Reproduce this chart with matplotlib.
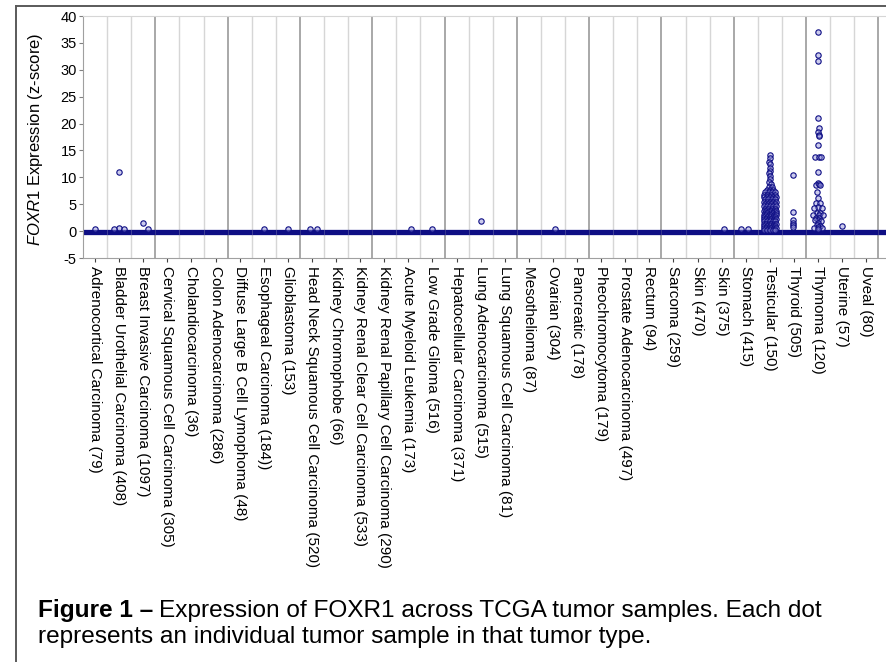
import matplotlib
matplotlib.use("Agg")
import matplotlib.pyplot as plt
from matplotlib.lines import Line2D

plt.rcParams['font.family'] = ['Liberation Sans', 'DejaVu Sans']
plt.rcParams['mathtext.fontset'] = 'custom'
plt.rcParams['mathtext.it'] = 'Liberation Sans:italic'
plt.rcParams['mathtext.rm'] = 'Liberation Sans'

# ---------------- data ----------------
tumor_types = ["Adrenocortical Carcinoma (79)", "Bladder Urothelial Carcinoma (408)",
               "Breast Invasive Carcinoma (1097)", "Cervical Squamous Cell Carcinoma (305)",
               "Cholandiocarcinoma (36)", "Colon Adenocarcinoma (286)",
               "Diffuse Large B Cell Lymophoma (48)", "Esophageal Carcinoma (184))",
               "Glioblastoma (153)", "Head Neck Squamous Cell Carcinoma (520)",
               "Kidney Chromophobe (66)", "Kidney Renal Clear Cell Carcinoma (533)",
               "Kidney Renal Papillary Cell Carcinoma (290)", "Acute Myeloid Leukemia (173)",
               "Low Grade Glioma (516)", "Hepatocellular Carcinoma (371)",
               "Lung Adenocarcinoma (515)", "Lung Squamous Cell Carcinoma (81)",
               "Mesothelioma (87)", "Ovarian (304)", "Pancreatic (178)",
               "Pheochromocytoma (179)", "Prostate Adenocarcinoma (497)", "Rectum (94)",
               "Sarcoma (259)", "Skin (470)", "Skin (375)", "Stomach (415)",
               "Testicular (150)", "Thyroid (505)", "Thymoma (120)", "Uterine (57)",
               "Uveal (80)"]

# bulk of samples (dense band near zero) for each tumor type
bulk_level = [-0.15, -0.15, -0.15, -0.15, -0.15, -0.15, -0.15, -0.15, -0.15, -0.15, -0.15,
              -0.15, -0.15, -0.1, -0.1, -0.15, -0.15, -0.15, -0.15, -0.15, -0.15, -0.15,
              -0.15, -0.15, -0.15, -0.15, -0.15, -0.15, -0.15, -0.15, -0.15, -0.15, -0.15]

# Testicular (150) individual samples
testicular_vals = [14.1, 13.6, 12.9, 12.4, 11.7, 11.2, 10.8, 10.3, 9.7, 9.2, 8.7,
                   8.2, 8.2, 7.7, 7.7, 7.7, 7.2, 7.2, 7.2, 7.2, 6.8, 6.8, 6.8, 6.8,
                   6.3, 6.3, 6.3, 6.3, 6.3, 5.9, 5.9, 5.9, 5.9, 5.4, 5.4, 5.4, 5.4, 5.4,
                   5.0, 5.0, 5.0, 5.0, 4.6, 4.6, 4.6, 4.6, 4.6, 4.2, 4.2, 4.2, 4.2,
                   3.8, 3.8, 3.8, 3.8, 3.8, 3.8, 3.4, 3.4, 3.4, 3.4, 3.4,
                   3.0, 3.0, 3.0, 3.0, 3.0, 3.0, 2.6, 2.6, 2.6, 2.6, 2.6,
                   2.2, 2.2, 2.2, 2.2, 2.2, 2.2, 1.8, 1.8, 1.8, 1.8, 1.8,
                   1.4, 1.4, 1.4, 1.4, 1.4, 1.4, 1.0, 1.0, 1.0, 1.0, 1.0,
                   0.6, 0.6, 0.6, 0.6, 0.6, 0.6, 0.2, 0.2, 0.2, 0.2, 0.2]
testicular_offs = [0.0, 0.0, -0.02, 0.0, 0.02, 0.0, -0.02, 0.0, 0.02, -0.02, 0.03,
                   -0.05, 0.08, -0.12, 0.0, 0.12, -0.2, -0.05, 0.1, 0.22, -0.24, -0.1, 0.05, 0.2,
                   -0.25, -0.13, 0.0, 0.13, 0.25, -0.2, -0.07, 0.07, 0.2, -0.26, -0.13, 0.0, 0.13, 0.26,
                   -0.22, -0.08, 0.06, 0.2, -0.26, -0.13, 0.0, 0.13, 0.26, -0.22, -0.08, 0.08, 0.22,
                   -0.26, -0.16, -0.05, 0.06, 0.17, 0.26, -0.22, -0.1, 0.03, 0.15, 0.26,
                   -0.26, -0.16, -0.05, 0.06, 0.17, 0.26, -0.24, -0.11, 0.0, 0.11, 0.23,
                   -0.26, -0.16, -0.05, 0.06, 0.17, 0.26, -0.24, -0.11, 0.0, 0.11, 0.23,
                   -0.26, -0.16, -0.05, 0.06, 0.17, 0.26, -0.24, -0.11, 0.0, 0.11, 0.23,
                   -0.26, -0.16, -0.05, 0.06, 0.17, 0.26, -0.24, -0.11, 0.0, 0.11, 0.23]

# Thymoma (120) individual samples
thymoma_vals = [37.0, 32.8, 31.6, 21.0, 19.2, 18.5, 17.9, 17.6, 16.1, 13.7, 13.7, 13.7,
                10.9, 9.0, 8.6, 8.7, 8.5, 7.3, 6.1, 5.3, 5.2, 4.4, 4.3, 4.3, 3.4, 3.3,
                3.0, 3.0, 3.0, 2.5, 2.4, 2.0, 2.0, 1.9, 1.5, 1.1, 1.0, 0.7, 0.5, 0.5, 0.3]
thymoma_offs = [0.0, 0.0, 0.0, 0.0, 0.02, 0.0, 0.02, 0.04, 0.0, -0.12, 0.02, 0.12,
                0.0, -0.02, -0.1, 0.05, 0.1, -0.05, 0.0, -0.1, 0.1, 0.0, -0.15, 0.15, -0.05, 0.1,
                -0.2, 0.05, 0.2, -0.1, 0.05, 0.0, -0.12, 0.12, 0.0, -0.05, 0.08, 0.0, -0.15, 0.15, 0.0]

# other visible outlying samples: (tumor index, offset, value)
other_idx = [0, 1, 1, 1, 1, 2, 2, 7, 8, 9, 9, 13, 14, 16, 19, 26, 27, 27,
             29, 29, 29, 29, 29, 29, 31]
other_offs = [0.0, 0.0, 0.0, -0.2, 0.2, 0.0, 0.2, 0.0, 0.0, -0.1, 0.2, 0.1, 0.0, 0.0, 0.1,
              0.1, -0.2, 0.1, -0.05, -0.05, -0.05, -0.05, -0.05, -0.05, 0.0]
other_vals = [0.3, 10.9, 0.6, 0.3, 0.3, 1.6, 0.3, 0.3, 0.3, 0.3, 0.3, 0.4, 0.4, 1.9, 0.3,
              0.3, 0.4, 0.4, 10.5, 3.5, 2.0, 1.6, 1.1, 0.7, 1.0]

y_ticks = [-5, 0, 5, 10, 15, 20, 25, 30, 35, 40]

# ---------------- figure ----------------
W, H = 886, 662
fig = plt.figure(figsize=(W / 100, H / 100), dpi=100)
fig.patch.set_facecolor('white')

# outer frame (left and top edges visible)
fig.add_artist(Line2D([16 / W, 16 / W], [1 - 6 / H, 0], transform=fig.transFigure,
                      color='#5a5a5a', lw=1.4))
fig.add_artist(Line2D([16 / W, 1], [1 - 6 / H, 1 - 6 / H], transform=fig.transFigure,
                      color='#5a5a5a', lw=1.4))

ax_l, ax_r, ax_t, ax_b = 83, 886, 16, 258
ax = fig.add_axes([ax_l / W, 1 - ax_b / H, (ax_r - ax_l) / W, (ax_b - ax_t) / H])

n = len(tumor_types)
ax.set_xlim(-0.5, -0.5 + (ax_r - ax_l) / 24.1)
ax.set_ylim(-5, 40)

# vertical separators between tumor types
for k in range(n):
    b = k + 0.5
    dark = (k % 3 == 2)
    ax.axvline(b, color='#a8a8a8' if dark else '#d6d6d6', lw=1.4 if dark else 1.0, zorder=0)

navy = '#0e0e84'
# dense band of samples near zero
for k in range(n):
    ax.hlines(bulk_level[k], k - 0.5, k + 0.5, color=navy, lw=3.8, zorder=2)
ax.hlines(bulk_level[-1], n - 0.5, n + 1, color=navy, lw=3.8, zorder=2)

pt_kw = dict(s=15, facecolor=(0.55, 0.55, 0.85, 0.45), edgecolor=navy, linewidths=0.8, zorder=3)
ti = tumor_types.index("Testicular (150)")
ax.scatter([ti + o for o in testicular_offs], testicular_vals, **pt_kw)
hi = tumor_types.index("Thymoma (120)")
ax.scatter([hi + o for o in thymoma_offs], thymoma_vals, **pt_kw)
ax.scatter([i + o for i, o in zip(other_idx, other_offs)], other_vals, **pt_kw)

# axes styling
ax.spines['right'].set_visible(False)
ax.spines['top'].set_color('#d6d6d6')
ax.spines['left'].set_color('#a0a0a0')
ax.spines['bottom'].set_color('#a0a0a0')

ax.set_yticks(y_ticks)
ax.set_yticklabels([str(v) for v in y_ticks], fontsize=10.5)
ax.tick_params(axis='y', length=3, width=0.8, color='#808080', pad=1.5)
ax.set_xticks(range(n))
ax.set_xticklabels(tumor_types, rotation=270, ha='center', va='top', fontsize=11)
ax.tick_params(axis='x', length=3, width=0.8, color='#404040', pad=2.5)

ax.set_ylabel(r"$\it{FOXR1}$ Expression (z-score)", fontsize=12)
ax.yaxis.set_label_coords(-0.047, 0.49)

# caption
fig.canvas.draw()
r = fig.canvas.get_renderer()
cap_fs = 17.6
x0 = 38 / W
t1 = fig.text(x0, 1 - 617 / H, "Figure 1 \u2013", fontsize=cap_fs, fontweight='bold',
              va='baseline', ha='left')
bb = t1.get_window_extent(renderer=r)
fig.text(bb.x1 / W + 6 / W, 1 - 617 / H,
         "Expression of FOXR1 across TCGA tumor samples. Each dot",
         fontsize=cap_fs, va='baseline', ha='left')
fig.text(x0, 1 - 643 / H, "represents an individual tumor sample in that tumor type.",
         fontsize=cap_fs, va='baseline', ha='left')

fig.savefig("out.png", dpi=100)
